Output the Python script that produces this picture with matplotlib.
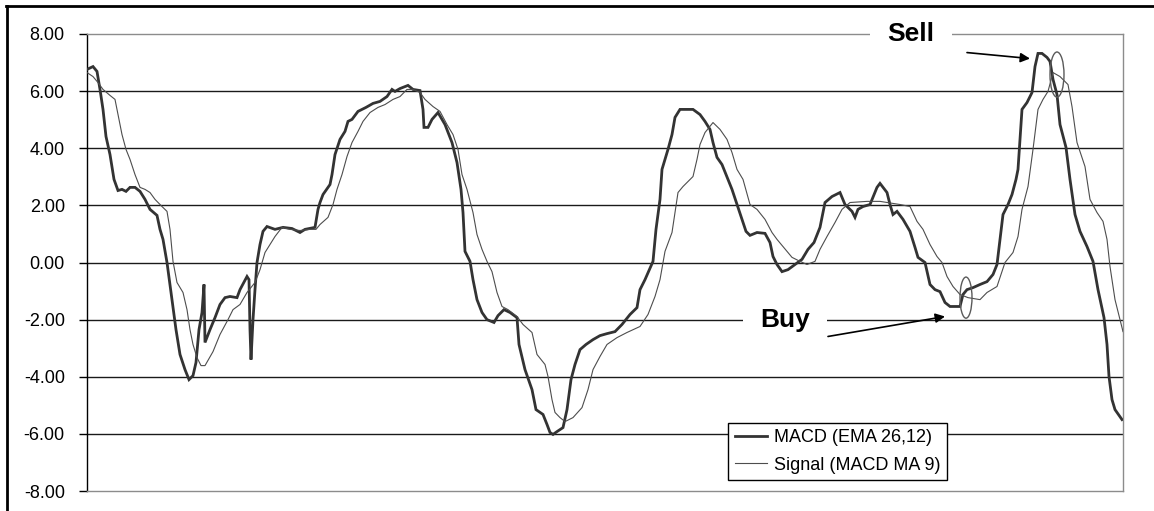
import matplotlib
matplotlib.use("Agg")
import matplotlib.pyplot as plt
from matplotlib.lines import Line2D
from matplotlib.patches import Ellipse

plt.rcParams['font.family'] = ['Liberation Sans', 'DejaVu Sans']

# MACD (EMA 26,12): trading-session index and value
macd_day = [0, 6, 10, 13, 16, 19, 23, 27, 31, 35, 39, 43, 48, 53, 58, 63, 70, 73, 76, 80,
            85, 89, 93, 98, 102, 106, 109, 112, 115, 117, 118, 123, 128, 133, 138, 143, 150,
            153, 160, 162, 163, 164, 166, 168, 170, 173, 176, 180, 188, 196, 205, 213, 218,
            228, 231, 233, 236, 243, 245, 248, 253, 258, 261, 265, 271, 279, 286, 293, 300,
            305, 308, 313, 321, 326, 333, 336, 337, 341, 345, 351, 358, 365, 370, 374, 376,
            378, 383, 386, 390, 395, 400, 407, 411, 417, 423, 430, 432, 438, 445, 449, 456,
            460, 463, 466, 470, 476, 480, 484, 488, 493, 499, 506, 513, 520, 528, 535, 543,
            550, 553, 558, 566, 569, 573, 575, 578, 581, 585, 588, 593, 606, 613, 618, 623,
            626, 630, 635, 639, 645, 650, 655, 659, 663, 670, 678, 683, 686, 690, 695, 701,
            708, 715, 721, 727, 733, 738, 745, 753, 758, 765, 768, 771, 776, 783, 790, 793,
            800, 803, 806, 810, 816, 823, 828, 831, 838, 843, 848, 853, 858, 863, 873, 876,
            880, 886, 893, 900, 906, 910, 913, 916, 921, 925, 929, 931, 933, 935, 940, 945,
            948, 951, 955, 960, 963, 966, 970, 973, 979, 983, 988, 993, 1000, 1006, 1011,
            1017, 1020, 1022, 1025, 1028, 1035]
macd_val = [6.76, 6.86, 6.69, 6.06, 5.36, 4.41, 3.78, 2.91, 2.52, 2.56, 2.49, 2.63, 2.63,
            2.49, 2.21, 1.86, 1.65, 1.16, 0.81, 0.00, -1.30, -2.35, -3.22, -3.75, -4.10,
            -3.96, -3.50, -2.35, -1.75, -0.77, -2.80, -2.35, -1.93, -1.47, -1.23, -1.19,
            -1.23, -0.95, -0.49, -0.60, -2.35, -3.40, -2.00, -0.95, 0.00, 0.63, 1.09, 1.26,
            1.16, 1.23, 1.19, 1.05, 1.16, 1.23, 1.86, 2.10, 2.38, 2.73, 3.08, 3.78, 4.31,
            4.59, 4.94, 5.01, 5.29, 5.43, 5.57, 5.64, 5.81, 6.06, 5.99, 6.09, 6.20, 6.06,
            6.02, 5.36, 4.73, 4.73, 5.01, 5.25, 4.83, 4.20, 3.50, 2.56, 1.75, 0.39, 0.04,
            -0.60, -1.30, -1.75, -2.00, -2.10, -1.86, -1.65, -1.75, -1.93, -2.87, -3.75,
            -4.45, -5.15, -5.32, -5.67, -5.95, -6.02, -5.92, -5.78, -5.15, -4.10, -3.57,
            -3.05, -2.87, -2.70, -2.56, -2.49, -2.42, -2.17, -1.82, -1.58, -0.95, -0.60,
            0.04, 1.16, 2.21, 3.26, 3.61, 3.96, 4.48, 5.08, 5.36, 5.36, 5.18, 4.94, 4.66,
            4.20, 3.68, 3.43, 3.08, 2.56, 2.03, 1.51, 1.09, 0.95, 1.05, 1.02, 0.70, 0.21,
            -0.07, -0.32, -0.25, -0.07, 0.11, 0.46, 0.70, 1.23, 2.10, 2.31, 2.45, 2.03,
            1.79, 1.58, 1.86, 1.96, 2.03, 2.63, 2.77, 2.45, 2.03, 1.68, 1.79, 1.51, 1.09,
            0.53, 0.18, 0.00, -0.77, -0.95, -1.02, -1.40, -1.54, -1.54, -1.12, -0.95, -0.88,
            -0.77, -0.67, -0.42, -0.07, 0.81, 1.68, 2.03, 2.38, 2.91, 3.26, 4.31, 5.36,
            5.60, 5.95, 6.86, 7.32, 7.32, 7.18, 7.04, 6.41, 5.88, 4.83, 4.03, 2.91, 1.68,
            1.09, 0.56, 0.04, -0.95, -1.93, -2.87, -3.99, -4.80, -5.15, -5.50]

# Signal (MACD MA 9)
signal_day = [0, 6, 11, 16, 23, 28, 31, 35, 39, 43, 48, 53, 58, 63, 68, 75, 80, 83, 86, 90,
              96, 100, 103, 106, 110, 114, 118, 126, 133, 141, 146, 153, 160, 168, 173, 178,
              183, 188, 195, 203, 213, 223, 229, 233, 241, 246, 250, 255, 260, 265, 271,
              276, 283, 291, 298, 306, 313, 320, 326, 333, 338, 346, 353, 360, 366, 371,
              375, 380, 386, 390, 395, 400, 405, 410, 415, 421, 430, 436, 445, 450, 458,
              461, 465, 468, 473, 478, 486, 495, 501, 506, 513, 520, 530, 540, 553, 561,
              568, 573, 578, 585, 588, 591, 596, 606, 610, 613, 618, 626, 633, 640, 645,
              650, 656, 663, 670, 678, 685, 690, 696, 705, 713, 720, 728, 733, 740, 748,
              755, 763, 780, 793, 813, 823, 830, 836, 843, 850, 855, 860, 866, 873, 881,
              893, 900, 910, 918, 926, 931, 935, 941, 946, 951, 956, 961, 966, 973, 981,
              985, 990, 998, 1003, 1010, 1016, 1020, 1023, 1028, 1036]
signal_val = [6.65, 6.51, 6.30, 6.06, 5.85, 5.71, 5.18, 4.48, 3.96, 3.61, 3.08, 2.63, 2.56,
              2.45, 2.21, 1.96, 1.79, 1.16, 0.04, -0.70, -1.05, -1.65, -2.35, -2.87, -3.33,
              -3.61, -3.61, -3.12, -2.52, -2.00, -1.65, -1.47, -1.05, -0.70, -0.25, 0.35,
              0.63, 0.91, 1.23, 1.16, 1.12, 1.16, 1.16, 1.33, 1.58, 2.03, 2.56, 3.08, 3.71,
              4.20, 4.59, 4.94, 5.25, 5.43, 5.53, 5.71, 5.81, 6.06, 6.06, 5.95, 5.71, 5.46,
              5.29, 4.83, 4.48, 3.96, 3.08, 2.56, 1.75, 0.98, 0.46, 0.04, -0.32, -1.05,
              -1.54, -1.65, -1.89, -2.17, -2.45, -3.22, -3.57, -3.99, -4.80, -5.25, -5.43,
              -5.57, -5.43, -5.08, -4.45, -3.75, -3.29, -2.87, -2.63, -2.45, -2.24, -1.82,
              -1.19, -0.60, 0.39, 1.05, 1.75, 2.45, 2.66, 3.01, 3.61, 4.13, 4.55, 4.90,
              4.66, 4.31, 3.85, 3.26, 2.91, 2.03, 1.86, 1.51, 1.05, 0.81, 0.56, 0.18, 0.04,
              -0.07, 0.04, 0.46, 0.91, 1.40, 1.86, 2.10, 2.14, 2.14, 2.03, 1.96, 1.44, 1.16,
              0.63, 0.21, 0.00, -0.49, -0.84, -1.12, -1.23, -1.30, -1.05, -0.84, 0.00, 0.35,
              0.91, 1.86, 2.66, 3.96, 5.36, 5.71, 5.99, 6.65, 6.51, 6.23, 5.46, 4.20, 3.36,
              2.21, 1.75, 1.44, 0.81, -0.14, -1.30, -2.42]

y_ticks = [-8, -6, -4, -2, 0, 2, 4, 6, 8]
series_labels = ["MACD (EMA 26,12)", "Signal (MACD MA 9)"]

# Crossover annotations: label position, arrow tail/head, ellipse centre and size
sell_text = ("Sell", 824, 8.0)
sell_arrow = ((880, 7.35), (943, 7.14))
sell_mark = ((970, 6.58), 14, 1.58)
buy_text = ("Buy", 698, -2.0)
buy_arrow = ((741, -2.59), (858, -1.89))
buy_mark = ((879, -1.23), 12, 1.44)

W, H = 1154, 511
fig = plt.figure(figsize=(W / 100, H / 100), dpi=100)
fig.patch.set_facecolor("white")
ax = fig.add_axes([87 / W, 1 - 491 / H, (1123 - 87) / W, (491 - 34) / H])

ax.set_xlim(0, 1036)
ax.set_ylim(-8, 8)

for v in y_ticks[1:-1]:
    ax.axhline(v, color="#1a1a1a", lw=1.0, zorder=1)

ax.plot(macd_day, macd_val, color="#333333", lw=2.0, zorder=3,
        solid_joinstyle="miter", label=series_labels[0])
ax.plot(signal_day, signal_val, color="#4d4d4d", lw=0.8, zorder=3,
        label=series_labels[1])

ax.set_yticks(y_ticks)
ax.set_yticklabels([f"{v:.2f}" for v in y_ticks])
ax.set_xticks([])
ax.tick_params(axis="y", length=6, width=1, color="black", pad=10,
               labelsize=13, labelcolor="black")

for side in ("top", "right", "bottom"):
    ax.spines[side].set_color("#8c8c8c")
    ax.spines[side].set_linewidth(1.0)
ax.spines["left"].set_color("black")
ax.spines["left"].set_linewidth(1.0)

for label, tx, ty in (sell_text, buy_text):
    ax.text(tx, ty, label, ha="center", va="center", fontsize=19, fontweight="bold",
            zorder=6, clip_on=False,
            bbox=dict(boxstyle="square,pad=0.65", facecolor="white", edgecolor="none"))

for tail, head in (sell_arrow, buy_arrow):
    ax.annotate("", xy=head, xytext=tail, zorder=7,
                arrowprops=dict(arrowstyle="-|>", color="black", lw=1.2,
                                mutation_scale=14, shrinkA=0, shrinkB=0))

for (cx, cy), w, h in (sell_mark, buy_mark):
    ax.add_patch(Ellipse((cx, cy), w, h, facecolor="none", edgecolor="#5a5a5a",
                         lw=1.0, zorder=4))

leg = ax.legend(loc="lower left", bbox_to_anchor=(0.619, 0.024), borderaxespad=0,
                fontsize=13, frameon=True, fancybox=False, handlelength=1.8,
                handletextpad=0.4, labelspacing=0.6, borderpad=0.35)
leg.get_frame().set_edgecolor("black")
leg.get_frame().set_linewidth(1.0)
leg.get_frame().set_facecolor("white")
leg.get_frame().set_alpha(1.0)
leg.set_zorder(8)

# outer chart border
fig.add_artist(Line2D([7 / W, 7 / W], [0, 1 - 6 / H], transform=fig.transFigure,
                      color="black", lw=2.0))
fig.add_artist(Line2D([6 / W, 1], [1 - 6 / H, 1 - 6 / H], transform=fig.transFigure,
                      color="black", lw=2.0))

fig.savefig("out.png", dpi=100, facecolor="white")
